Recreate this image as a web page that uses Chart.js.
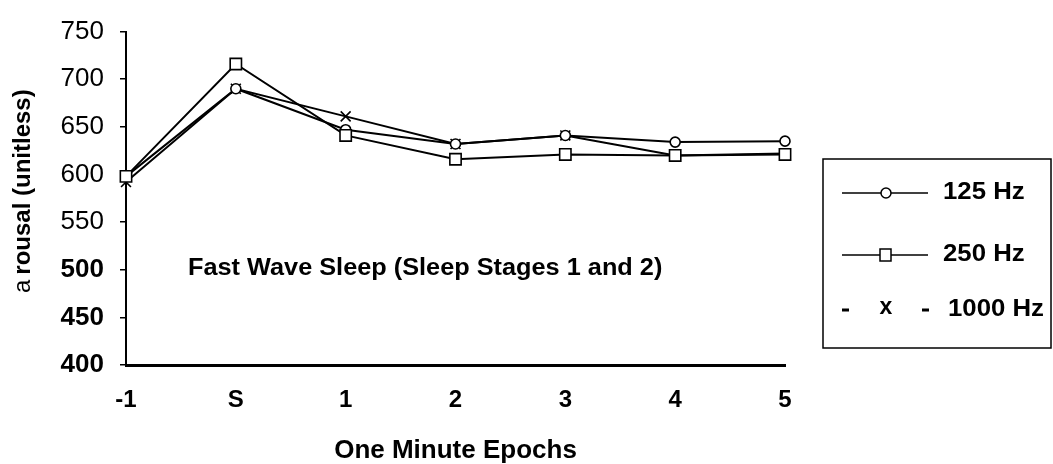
<!DOCTYPE html>
<html>
<head>
<meta charset="utf-8">
<script src="https://cdn.jsdelivr.net/npm/chart.js@4/dist/chart.umd.min.js"></script>
<style>
  html, body { margin: 0; padding: 0; background: #fff; }
  #wrap { width: 1053px; height: 464px; }
</style>
</head>
<body>
<div id="wrap"><canvas id="arousalChart" width="1053" height="464"></canvas></div>
<script>
'use strict';

// categories on the x axis (one minute epochs, S = sleep onset)
var epochs = ['-1', 'S', '1', '2', '3', '4', '5'];

// arousal values
var hz125 = [598, 690, 647, 632, 641, 634, 635];
var hz250 = [598, 716, 641, 616, 621, 620, 621];
var hz1000 = [592, 690, 661, 632, 641, 620, 622];

// y axis range
var yMin = 400;
var yMax = 750;
var yStep = 50;

var seriesNames = ['125 Hz', '250 Hz', '1000 Hz'];
var noteText = 'Fast Wave Sleep (Sleep Stages 1 and 2)';

var FONT = '"Liberation Sans", Arial, Helvetica, sans-serif';

//the scanned font is wider than Arial, so plugin texts get stretched a bit
function wideText(ctx, text, x, y, stretch) {
    ctx.save();
    ctx.translate(x, y);
    ctx.scale(stretch, 1);
    ctx.fillText(text, 0, 0);
    ctx.restore();
}

/*
 * draws the rotated y title, the note inside the plot and the boxed legend
 */
var extrasPlugin = {
    id: 'extras',
    afterDraw: function(chart) {
        var ctx = chart.ctx;
        ctx.save();

        //y axis title, "a" in regular weight and the rest bold, like the scan
        ctx.translate(23, 293);
        ctx.rotate(-Math.PI / 2);
        ctx.fillStyle = '#000';
        ctx.textBaseline = 'middle';
        ctx.textAlign = 'left';
        ctx.font = '24px ' + FONT;
        ctx.fillText('a', 0, 0);
        var aw = ctx.measureText('a').width + 5;
        ctx.font = 'bold 24px ' + FONT;
        ctx.fillText('rousal (unitless)', aw, 0);
        ctx.restore();

        //note inside the plot
        ctx.save();
        ctx.fillStyle = '#000';
        ctx.font = 'bold 23px ' + FONT;
        ctx.textBaseline = 'middle';
        ctx.textAlign = 'left';
        wideText(ctx, noteText, 188, 269, 1.1);
        ctx.restore();

        //legend box
        ctx.save();
        ctx.strokeStyle = '#000';
        ctx.lineWidth = 1.5;
        ctx.strokeRect(823, 159, 228, 189);

        var rows = [193, 255, 310];
        ctx.fillStyle = '#000';
        ctx.font = 'bold 23px ' + FONT;
        ctx.textBaseline = 'middle';

        //125 Hz
        ctx.beginPath();
        ctx.moveTo(842, rows[0]); ctx.lineTo(928, rows[0]);
        ctx.stroke();
        ctx.beginPath();
        ctx.arc(886, rows[0], 5, 0, Math.PI * 2);
        ctx.fillStyle = '#fff'; ctx.fill(); ctx.stroke();
        ctx.fillStyle = '#000';
        wideText(ctx, seriesNames[0], 943, rows[0], 1.12);

        //250 Hz
        ctx.beginPath();
        ctx.moveTo(842, rows[1]); ctx.lineTo(928, rows[1]);
        ctx.stroke();
        ctx.fillStyle = '#fff';
        ctx.fillRect(880, rows[1] - 6, 11, 12);
        ctx.strokeRect(880, rows[1] - 6, 11, 12);
        ctx.fillStyle = '#000';
        wideText(ctx, seriesNames[1], 943, rows[1], 1.12);

        //1000 Hz ( - x - )
        ctx.lineWidth = 3;
        ctx.beginPath();
        ctx.moveTo(842, rows[2]); ctx.lineTo(849, rows[2]);
        ctx.moveTo(922, rows[2]); ctx.lineTo(929, rows[2]);
        ctx.stroke();
        ctx.textAlign = 'center';
        ctx.fillText('x', 886, rows[2] - 2);
        ctx.textAlign = 'left';
        wideText(ctx, seriesNames[2], 948, rows[2], 1.12);
        ctx.restore();
    }
};

function makeSet(label, data, style, radius, order) {
    return {
        label: label,
        data: data,
        borderColor: '#000',
        backgroundColor: '#fff',
        borderWidth: 2,
        pointStyle: style,
        pointRadius: radius,
        pointBorderWidth: 1.6,
        pointBorderColor: '#000',
        pointBackgroundColor: '#fff',
        tension: 0,
        fill: false,
        order: order
    };
}

var ctx = document.getElementById('arousalChart').getContext('2d');

window.arousalChart = new Chart(ctx, {
    type: 'line',
    data: {
        labels: epochs,
        datasets: [
            makeSet(seriesNames[0], hz125, 'circle', 5, 2),
            makeSet(seriesNames[1], hz250, 'rect', 8, 1),
            makeSet(seriesNames[2], hz1000, 'crossRot', 7, 3)
        ]
    },
    options: {
        responsive: false,
        animation: false,
        devicePixelRatio: 1,
        layout: {
            padding: { top: 24, right: 268, bottom: 0, left: 0 }
        },
        plugins: {
            legend: { display: false },
            tooltip: { enabled: false },
            title: { display: false }
        },
        scales: {
            x: {
                offset: false,
                grid: { display: false, drawTicks: false },
                border: { display: true, color: '#000', width: 3 },
                ticks: {
                    color: '#000',
                    padding: 21,
                    maxRotation: 0,
                    font: { family: FONT, size: 24, weight: 'bold' }
                },
                title: {
                    display: true,
                    text: 'One Minute Epochs',
                    color: '#000',
                    padding: { top: 0, bottom: 0 },
                    font: { family: FONT, size: 26, weight: 'bold', lineHeight: 1 }
                },
                afterFit: function(scale) { scale.height = 99; }
            },
            y: {
                min: yMin,
                max: yMax,
                grid: {
                    display: true,
                    drawOnChartArea: false,
                    drawTicks: true,
                    tickLength: 6,
                    color: '#000',
                    lineWidth: 1.5
                },
                border: { display: true, color: '#000', width: 2 },
                ticks: {
                    stepSize: yStep,
                    color: '#000',
                    padding: 16,
                    font: function(c) {
                        var v = c.tick ? c.tick.value : 0;
                        return { family: FONT, size: 26, weight: v <= 500 ? 'bold' : 'normal' };
                    }
                },
                afterFit: function(scale) { scale.width = 126; }
            }
        }
    },
    plugins: [extrasPlugin]
});
</script>
</body>
</html>
